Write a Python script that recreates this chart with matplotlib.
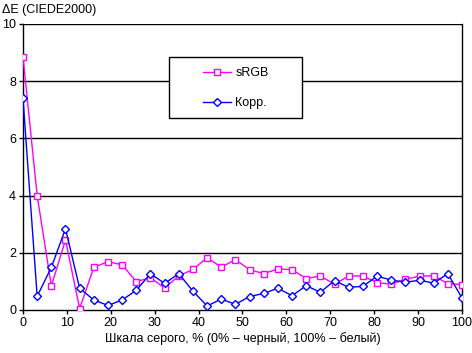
import numpy as np
import matplotlib
matplotlib.use("Agg")
import matplotlib.pyplot as plt
from matplotlib.patches import Rectangle

x = [i * 100 / 31 for i in range(32)]
srgb = [8.85, 4.0, 0.84, 2.45, 0.05, 1.49, 1.69, 1.58, 0.99, 1.13,
        0.77, 1.19, 1.42, 1.83, 1.50, 1.76, 1.41, 1.27, 1.44, 1.41,
        1.10, 1.19, 0.90, 1.19, 1.19, 0.96, 0.90, 1.08, 1.18, 1.20,
        0.92, 0.89]
korr = [7.40, 0.48, 1.49, 2.84, 0.76, 0.35, 0.16, 0.35, 0.69, 1.27,
        0.93, 1.27, 0.66, 0.14, 0.38, 0.20, 0.47, 0.58, 0.76, 0.50,
        0.85, 0.62, 1.03, 0.79, 0.83, 1.18, 1.05, 0.97, 1.04, 0.94,
        1.27, 0.42]
xticks = list(range(0, 101, 10))
yticks = list(range(0, 11, 2))
ylabel = "ΔE (CIEDE2000)"
xlabel = "Шкала серого, % (0% – черный, 100% – белый)"

plt.rcParams['font.family'] = ['Liberation Sans', 'DejaVu Sans']
plt.rcParams['font.size'] = 9

W, H = 472, 353
fig = plt.figure(figsize=(4.72, 3.53), dpi=100)
ax = fig.add_axes([23/W, 1 - 310/H, (462-23)/W, (310-24)/H])

for yv in yticks[1:]:
    ax.axhline(yv, color='black', lw=1, zorder=1)

ax.plot(x, srgb, color='#FF00FF', lw=1, marker='s', ms=4.6, mfc='white',
        mec='#FF00FF', mew=1, label='sRGB', zorder=3)
ax.plot(x, korr, color='#0000FF', lw=1, marker='D', ms=3.9, mfc='white',
        mec='#0000FF', mew=1, label='Корр.', zorder=3)

ax.set_xlim(0, 100)
ax.set_ylim(0, 10)
ax.set_xticks(xticks)
ax.set_yticks(yticks)
ax.tick_params(direction='out', length=3, width=1, color='black', labelsize=9, pad=2)
for s in ['left', 'bottom', 'right']:
    ax.spines[s].set_color('black')
    ax.spines[s].set_linewidth(1)
ax.spines['top'].set_visible(False)

ax.set_xlabel(xlabel, fontsize=9, labelpad=2)
fig.text(2/W, 1 - 10/H, ylabel, fontsize=9, ha='left', va='center')

# legend frame drawn as a rectangle in figure pixel coordinates
frame = Rectangle((169/W, 1 - 118/H), (302-169)/W, (118-57)/H,
                  transform=fig.transFigure, facecolor='white',
                  edgecolor='black', lw=1, zorder=4)
fig.add_artist(frame)

leg = fig.legend(*ax.get_legend_handles_labels(), loc='center left',
                 bbox_to_anchor=(203/W, 1 - 88/H),
                 frameon=False, handlelength=2.25, borderpad=0,
                 labelspacing=1.45, handletextpad=0.35, borderaxespad=0,
                 fontsize=9)
leg.set_zorder(5)

fig.savefig('out.png', dpi=100)
